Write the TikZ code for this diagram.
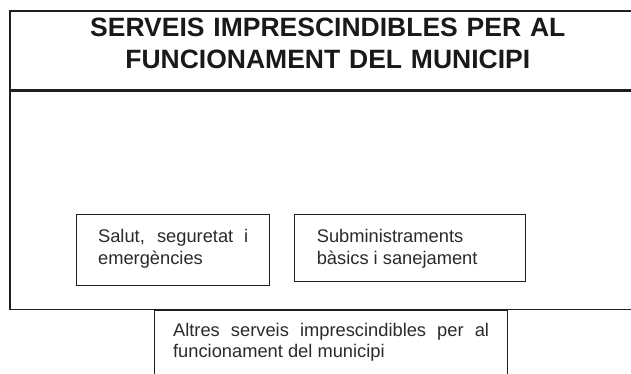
\documentclass[tikz,border=0pt]{standalone}
\usepackage{fontspec}
\setmainfont{Liberation Sans}
\usetikzlibrary{positioning}
\definecolor{framegrey}{HTML}{1E1E1E}
\definecolor{textgrey}{HTML}{2A2A2A}
\tolerance=10000
\hyphenpenalty=10000

\begin{document}
\begin{tikzpicture}[
  x=1pt, y=-1pt,
  text=textgrey,
  headbox/.style={
    draw=framegrey,
    line width=1.6pt,
    rectangle,
    minimum width=636pt,
    text width=600pt,
    align=center,
    inner sep=0pt,
    text height=26pt,
    text depth=53pt,
    font=\fontsize{26.5}{32}\selectfont\bfseries,
    text=black!90
  },
  areabox/.style={
    draw=framegrey,
    line width=1.6pt,
    rectangle,
    minimum width=636pt,
    minimum height=218pt,
    inner sep=0pt
  },
  svcbox/.style={
    draw=framegrey,
    line width=1.2pt,
    rectangle,
    align=justify,
    inner sep=0pt,
    text height=28.5pt,
    anchor=north west,
    font=\fontsize{18.3}{21.5}\selectfont
  }
]

  % --- Canvas, same size as the reference ---
  \useasboundingbox (0,0) rectangle (631,374);
  \clip (0,0) rectangle (631,374);

  % --- Outer frame: title band and empty area below ---
  \node[headbox, anchor=north west] (head) at (9,10)
       {SERVEIS IMPRESCINDIBLES PER AL\\ FUNCIONAMENT DEL MUNICIPI};
  \node[areabox, below=0pt of head] (area) {};

  % --- Service boxes ---
  \node[svcbox, text width=150pt, minimum width=193pt, text depth=42.5pt,
        below right=123pt and 67pt of area.north west] (salut)
       {Salut, seguretat i emergències};
  \node[svcbox, text width=187pt, minimum width=231pt, text depth=38.5pt,
        below right=0pt and 24pt of salut.north east] (subm)
       {Subministraments bàsics i sanejament};
  \node[svcbox, text width=316pt, minimum width=353pt,
        text height=25.5pt, text depth=80pt,
        below right=0pt and 145pt of area.south west] (altres)
       {Altres serveis imprescindibles per al funcionament del municipi};

\end{tikzpicture}
\end{document}
